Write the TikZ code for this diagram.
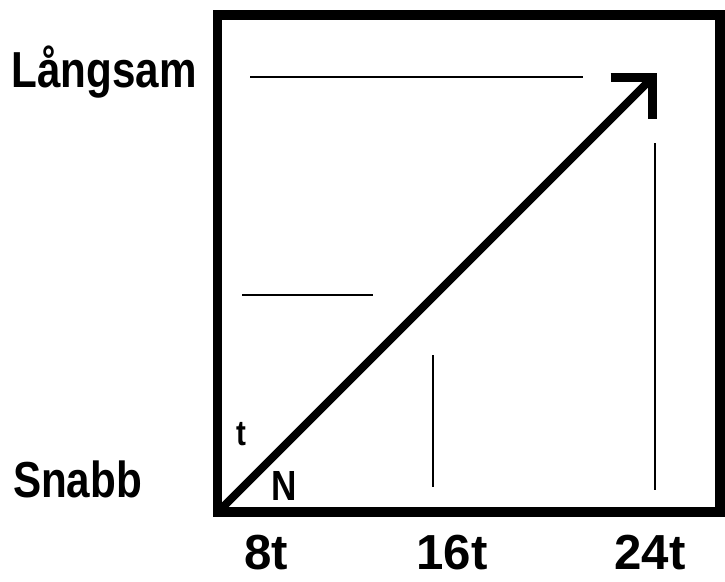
\documentclass[tikz,border=0pt]{standalone}
\usepackage{fontspec}
\setmainfont{Liberation Sans}
\usetikzlibrary{arrows.meta}

\newcommand{\tallbox}[1]{\scalebox{1}[1.2]{#1}}

\begin{document}
\begin{tikzpicture}[x=0.025cm,y=-0.025cm,
  lab/.style={font=\bfseries\fontsize{35}{40}\selectfont, anchor=base, inner sep=0pt},
  side/.style={font=\bfseries\fontsize{30}{36}\selectfont, anchor=base, inner sep=0pt},
  small/.style={font=\bfseries\fontsize{21}{24}\selectfont, anchor=base, inner sep=0pt},
  thinline/.style={line width=1pt}]
\useasboundingbox (0,0) rectangle (725,581);
% Frame
\draw[line width=7pt] (217.5,15) rectangle (720,512);
% Side labels
\node[side] (slow) at (104,87) {\tallbox{Långsam}};
\node[side] (fast) at (77.5,497) {\tallbox{Snabb}};
% Bottom labels
\foreach \x/\l in {266/8t,452/16t,650/24t} {
  \node[lab] (t\l) at (\x,569) {\l};
}
% Thin lines
\coordinate (h1a) at (250,77);  \coordinate (h1b) at (583,77);
\coordinate (h2a) at (242,295); \coordinate (h2b) at (373,295);
\coordinate (v1a) at (433,355); \coordinate (v1b) at (433,487);
\coordinate (v2a) at (655,143); \coordinate (v2b) at (655,490);
\draw[thinline] (h1a) -- (h1b);
\draw[thinline] (h2a) -- (h2b);
\draw[thinline] (v1a) -- (v1b);
\draw[thinline] (v2a) -- (v2b);
% Diagonal arrow
\coordinate (corner) at (220,510);
\coordinate (tip) at (657,73);
\draw[line width=5.7pt, -{Straight Barb[length=21pt, width=42pt, line width=6.4pt]}] (corner) -- (tip);
% Small letters
\node[small] (tt) at (241,445) {\tallbox{t}};
\node[small, font=\bfseries\fontsize{25}{30}\selectfont] (nn) at (284,500) {\tallbox{N}};
\end{tikzpicture}
\end{document}
